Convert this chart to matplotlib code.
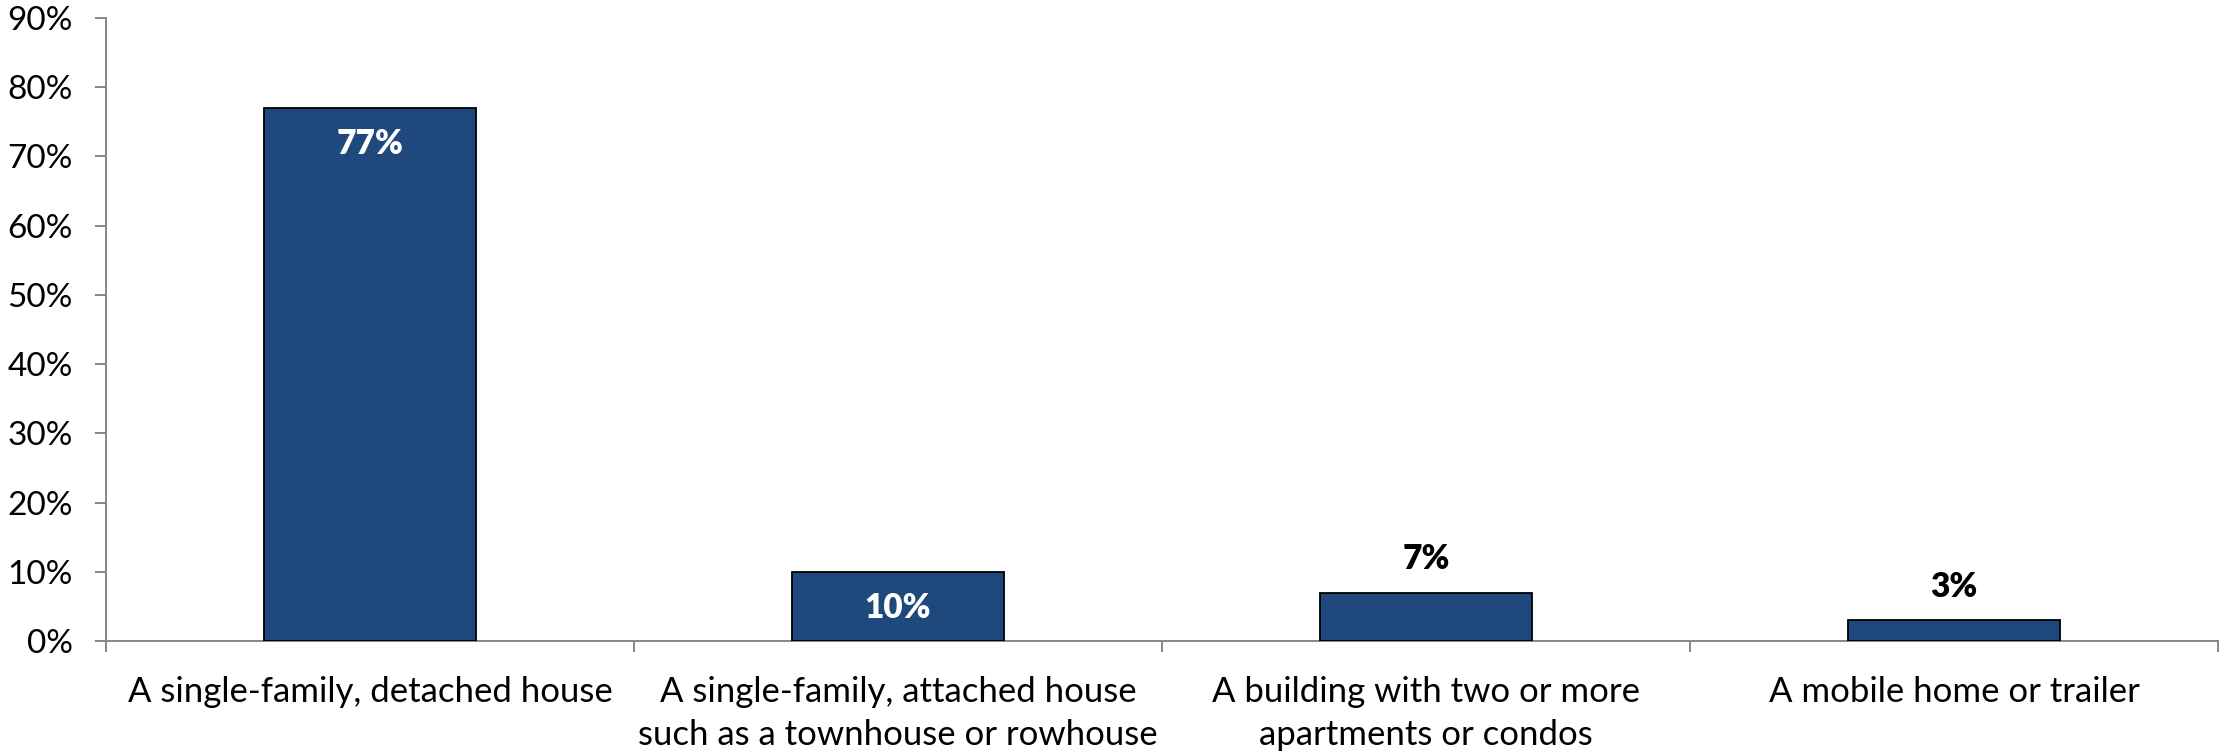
import numpy as np
import matplotlib
matplotlib.use("Agg")
import matplotlib.pyplot as plt
from matplotlib.ticker import FixedLocator

plt.rcParams['font.family'] = ['Lato', 'DejaVu Sans']

# Housing type shares (%)
categories = [
    "A single-family, detached house",
    "A single-family, attached house\nsuch as a townhouse or rowhouse",
    "A building with two or more\napartments or condos",
    "A mobile home or trailer",
]
values = [77, 10, 7, 3]
value_labels = ["77%", "10%", "7%", "3%"]
labels_inside = [True, True, False, False]
y_ticks = [0, 10, 20, 30, 40, 50, 60, 70, 80, 90]

bar_color = '#1F497D'
axis_color = '#868686'

fig = plt.figure(figsize=(22.19, 7.53), dpi=100)
ax = fig.add_axes([106 / 2219, 112 / 753, 2112 / 2219, 623 / 753])

x = np.arange(len(categories))
bars = ax.bar(x, values, width=0.4, color=bar_color, edgecolor='black', linewidth=1.3, zorder=3)

# Value labels: white inside tall bars, black above short ones
for bar, val, lab, inside in zip(bars, values, value_labels, labels_inside):
    cx = bar.get_x() + bar.get_width() / 2
    if inside:
        ax.annotate(lab, (cx, val), xytext=(0, -26), textcoords='offset points',
                    ha='center', va='center', color='white', fontsize=24, fontweight='heavy')
    else:
        ax.annotate(lab, (cx, val), xytext=(0, 24), textcoords='offset points',
                    ha='center', va='center', color='black', fontsize=24, fontweight='heavy')

ax.set_xlim(-0.5, len(categories) - 0.5)
ax.set_ylim(0, 90)
ax.set_yticks(y_ticks)
ax.set_yticklabels([f"{t}%" for t in y_ticks], fontsize=24)

ax.set_xticks(x)
ax.set_xticklabels(categories, fontsize=25, linespacing=1.42)
ax.xaxis.set_minor_locator(FixedLocator(np.arange(len(categories) + 1) - 0.5))
ax.tick_params(axis='x', which='major', length=0, pad=25)
ax.tick_params(axis='x', which='minor', length=8, width=1.4, color=axis_color, direction='out')
ax.tick_params(axis='y', length=8, width=1.4, color=axis_color, direction='out', pad=16)

for side in ['top', 'right']:
    ax.spines[side].set_visible(False)
for side in ['left', 'bottom']:
    ax.spines[side].set_color(axis_color)
    ax.spines[side].set_linewidth(1.4)

fig.savefig("out.png", dpi=100)
